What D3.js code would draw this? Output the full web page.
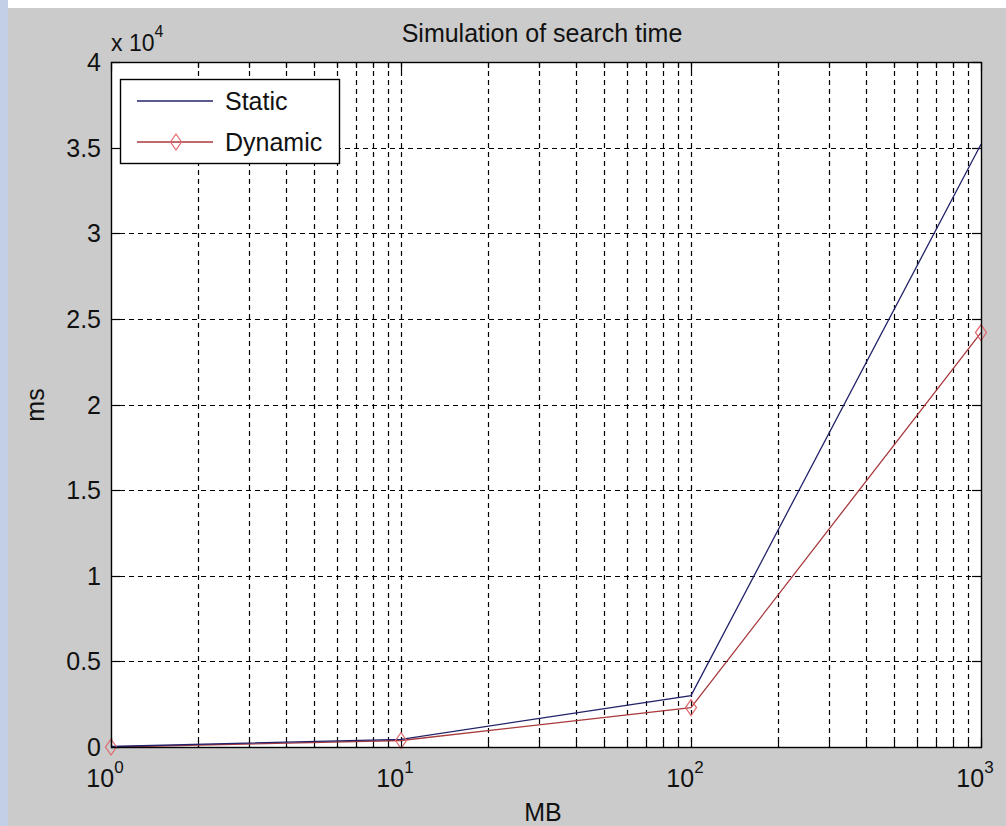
<!DOCTYPE html>
<html>
<head>
<meta charset="utf-8">
<script src="https://cdn.jsdelivr.net/npm/d3@7"></script>
<style>
  html, body { margin: 0; padding: 0; background: #ffffff; }
  svg { display: block; }
  text { font-family: "Liberation Sans", Arial, sans-serif; fill: #111; }
</style>
</head>
<body>
<svg id="chart" width="1006" height="826"></svg>
<script>
// Data
const sizesMB = [1, 10, 100, 1000];
const staticMs = [30, 450, 3000, 35200];
const dynamicMs = [0, 380, 2300, 24200];
const seriesNames = ['Static', 'Dynamic'];
const yTickValues = [0, 5000, 10000, 15000, 20000, 25000, 30000, 35000, 40000];
const xMajorTicks = [1, 10, 100, 1000];

const svg = d3.select('#chart');
const W = 1006, H = 826;
const plot = { left: 111, right: 981, top: 62, bottom: 747 };

// figure background (gray panel, watermark strip on the left)
svg.append('rect').attr('x', 0).attr('y', 0).attr('width', 8).attr('height', H).attr('fill', '#c3cfe6');
svg.append('rect').attr('x', 8).attr('y', 8).attr('width', W - 8).attr('height', H - 8).attr('fill', '#cbcbcb');

const x = d3.scaleLog().domain([1, 1000]).range([plot.left, plot.right]);
const y = d3.scaleLinear().domain([0, 40000]).range([plot.bottom, plot.top]);

svg.append('rect')
    .attr('x', plot.left).attr('y', plot.top)
    .attr('width', plot.right - plot.left).attr('height', plot.bottom - plot.top)
    .attr('fill', '#ffffff');

// minor + major x grid values
const xAllTicks = [];
for (let d = 1; d < 1000; d *= 10) {
    for (let m = 1; m < 10; m++) xAllTicks.push(d * m);
}
xAllTicks.push(1000);

const grid = svg.append('g')
    .attr('stroke', '#000')
    .attr('stroke-width', 1.2)
    .attr('stroke-dasharray', '5,4');

grid.selectAll('.vgrid')
    .data(xAllTicks.filter(v => v > 1 && v < 1000))
    .enter().append('line')
    .attr('x1', d => Math.round(x(d)) + 0.5).attr('x2', d => Math.round(x(d)) + 0.5)
    .attr('y1', plot.top).attr('y2', plot.bottom);

grid.selectAll('.hgrid')
    .data(yTickValues.filter(v => v > 0 && v < 40000))
    .enter().append('line')
    .attr('y1', d => Math.round(y(d)) + 0.5).attr('y2', d => Math.round(y(d)) + 0.5)
    .attr('x1', plot.left).attr('x2', plot.right);

// ticks (inward, on all four sides)
const ticks = svg.append('g').attr('stroke', '#000').attr('stroke-width', 1.2);
xAllTicks.forEach(v => {
    const len = xMajorTicks.includes(v) ? 9 : 6;
    const px = Math.round(x(v)) + 0.5;
    ticks.append('line').attr('x1', px).attr('x2', px).attr('y1', plot.bottom).attr('y2', plot.bottom - len);
    ticks.append('line').attr('x1', px).attr('x2', px).attr('y1', plot.top).attr('y2', plot.top + len);
});
yTickValues.forEach(v => {
    const py = Math.round(y(v)) + 0.5;
    ticks.append('line').attr('y1', py).attr('y2', py).attr('x1', plot.left).attr('x2', plot.left + 9);
    ticks.append('line').attr('y1', py).attr('y2', py).attr('x1', plot.right).attr('x2', plot.right - 9);
});

// series
const line = d3.line().x(d => x(d[0])).y(d => y(d[1]));
const staticPts = sizesMB.map((v, i) => [v, staticMs[i]]);
const dynamicPts = sizesMB.map((v, i) => [v, dynamicMs[i]]);

svg.append('path').datum(dynamicPts)
    .attr('d', line).attr('fill', 'none')
    .attr('stroke', '#a8393d').attr('stroke-width', 1.3);
svg.append('path').datum(staticPts)
    .attr('d', line).attr('fill', 'none')
    .attr('stroke', '#23236a').attr('stroke-width', 1.3);

const diamond = 'M0,-8L5.5,0L0,8L-5.5,0Z';
svg.selectAll('.marker')
    .data(dynamicPts)
    .enter().append('path')
    .attr('transform', d => `translate(${x(d[0])},${y(d[1])})`)
    .attr('d', diamond)
    .attr('fill', 'none')
    .attr('stroke', '#e0686c').attr('stroke-width', 1.2);

// axes box
svg.append('rect')
    .attr('x', plot.left + 0.5).attr('y', plot.top + 0.5)
    .attr('width', plot.right - plot.left).attr('height', plot.bottom - plot.top)
    .attr('fill', 'none').attr('stroke', '#000').attr('stroke-width', 1.4);

// y tick labels
svg.selectAll('.ylab')
    .data(yTickValues)
    .enter().append('text')
    .attr('x', plot.left - 10)
    .attr('y', d => y(d) + 9)
    .attr('text-anchor', 'end')
    .attr('font-size', 25)
    .text(d => d3.format('~g')(d / 10000));

// x tick labels 10^n
xMajorTicks.forEach(v => {
    const t = svg.append('text')
        .attr('x', x(v) - 6).attr('y', 787)
        .attr('text-anchor', 'middle')
        .attr('font-size', 25);
    t.append('tspan').text('10');
    t.append('tspan').attr('font-size', 17).attr('dy', -14).text(Math.round(Math.log10(v)));
});

// exponent label
const ex = svg.append('text').attr('x', 111).attr('y', 51).attr('font-size', 23);
ex.append('tspan').text('x 10');
ex.append('tspan').attr('font-size', 16).attr('dy', -14).text('4');

// title and axis labels
svg.append('text')
    .attr('x', 542).attr('y', 42)
    .attr('text-anchor', 'middle').attr('font-size', 25)
    .text('Simulation of search time');
svg.append('text')
    .attr('x', 543).attr('y', 821)
    .attr('text-anchor', 'middle').attr('font-size', 25)
    .text('MB');
svg.append('text')
    .attr('transform', 'translate(44,405) rotate(-90)')
    .attr('text-anchor', 'middle').attr('font-size', 25)
    .text('ms');

// legend
const lg = svg.append('g');
lg.append('rect')
    .attr('x', 120.5).attr('y', 79.5).attr('width', 219).attr('height', 84)
    .attr('fill', '#fff').attr('stroke', '#000').attr('stroke-width', 1.4);
const legendColors = ['#23236a', '#a8393d'];
seriesNames.forEach((name, i) => {
    const ly = 101 + i * 41;
    lg.append('line').attr('x1', 137).attr('x2', 213).attr('y1', ly).attr('y2', ly)
        .attr('stroke', legendColors[i]).attr('stroke-width', 1.3);
    if (i === 1) {
        lg.append('path').attr('transform', `translate(176,${ly})`)
            .attr('d', diamond).attr('fill', 'none')
            .attr('stroke', '#e0686c').attr('stroke-width', 1.2);
    }
    lg.append('text').attr('x', 225).attr('y', ly + 9).attr('font-size', 25).text(name);
});
</script>
</body>
</html>
